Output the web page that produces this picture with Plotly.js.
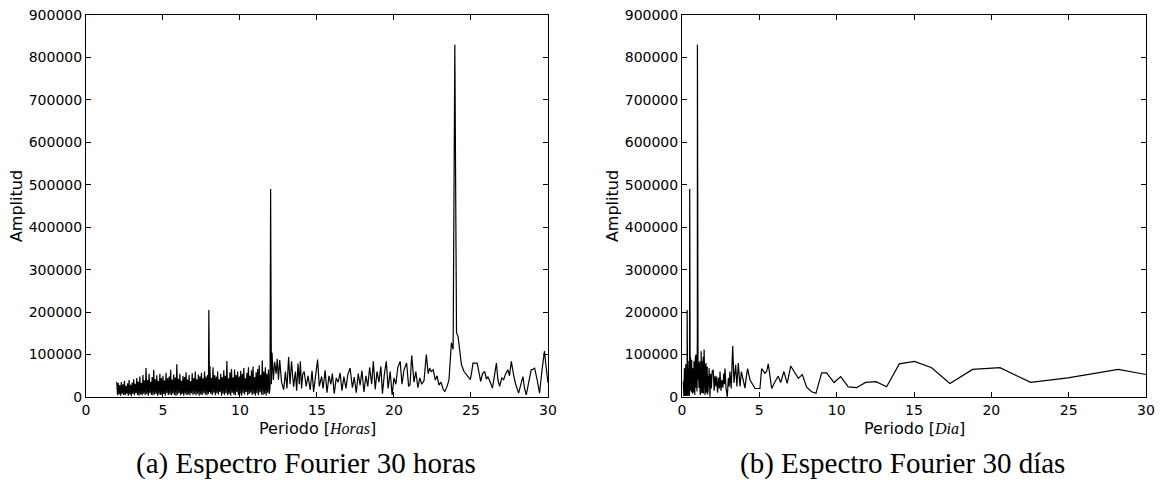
<!DOCTYPE html>
<html>
<head>
<meta charset="utf-8">
<script src="https://cdn.plot.ly/plotly-3.0.1.min.js"></script>
<style>html,body{margin:0;padding:0;background:#fff;}#chart{width:1163px;height:498px;}</style>
</head>
<body>
<div id="chart"></div>
<script>
// Fourier spectrum: period in hours (2 - 30 h), amplitude in thousands
const periodHours = [
2.00,2.05,2.10,2.15,2.20,2.25,2.30,2.35,2.40,2.45,
2.50,2.55,2.60,2.65,2.70,2.75,2.80,2.85,2.90,2.95,
3.00,3.05,3.10,3.15,3.20,3.25,3.30,3.35,3.40,3.45,
3.50,3.55,3.60,3.65,3.70,3.75,3.80,3.85,3.90,3.95,
4.00,4.05,4.10,4.15,4.20,4.25,4.30,4.35,4.40,4.45,
4.50,4.55,4.60,4.65,4.70,4.75,4.80,4.85,4.90,4.95,
5.00,5.05,5.10,5.15,5.20,5.25,5.30,5.35,5.40,5.45,
5.50,5.55,5.60,5.65,5.70,5.75,5.80,5.85,5.90,5.95,
6.00,6.05,6.10,6.15,6.20,6.25,6.30,6.35,6.40,6.45,
6.50,6.55,6.60,6.65,6.70,6.75,6.80,6.85,6.90,6.95,
7.00,7.05,7.10,7.15,7.20,7.25,7.30,7.35,7.40,7.45,
7.50,7.55,7.60,7.65,7.70,7.75,7.80,7.85,7.90,7.95,
7.98,8.02,
8.05,8.10,8.15,8.20,8.25,8.30,8.35,8.40,8.45,8.50,
8.55,8.60,8.65,8.70,8.75,8.80,8.85,8.90,8.95,9.00,
9.05,9.10,9.15,9.20,9.25,9.30,9.35,9.40,9.45,9.50,
9.55,9.60,9.65,9.70,9.75,9.80,9.85,9.90,9.95,10.00,
10.05,10.10,10.15,10.20,10.25,10.30,10.35,10.40,10.45,10.50,
10.55,10.60,10.65,10.70,10.75,10.80,10.85,10.90,10.95,11.00,
11.05,11.10,11.15,11.20,11.25,11.30,11.35,11.40,11.45,11.50,
11.55,11.60,11.65,11.70,11.75,11.80,11.85,11.90,
11.95,11.99,12.04,12.08,12.17,12.25,12.35,12.42,12.50,12.58,
12.70,12.84,12.95,13.05,13.16,13.25,13.35,13.48,13.60,13.68,
13.77,13.85,13.92,14.00,14.08,14.17,14.30,14.42,14.56,14.68,
14.78,14.90,15.04,15.15,15.30,15.40,15.53,15.65,15.78,15.90,
16.00,16.12,16.25,16.38,16.50,16.62,16.75,16.88,17.00,17.15,
17.30,17.42,17.55,17.68,17.80,17.92,18.05,18.18,18.30,18.42,
18.55,18.66,18.78,18.90,19.02,19.15,19.25,19.38,19.50,19.62,
19.75,19.88,20.00,20.12,20.25,20.40,20.52,20.65,20.82,20.95,
21.04,21.15,21.30,21.42,21.55,21.68,21.80,21.95,22.10,22.22,
22.32,22.42,22.55,22.68,22.80,22.92,23.05,23.20,23.30,23.45,
23.57,23.73,23.84,23.95,24.06,24.16,24.27,24.38,24.55,24.70,
24.85,24.96,25.05,25.13,25.40,25.50,25.63,25.75,25.89,26.00,
26.10,26.25,26.39,26.52,26.65,26.75,26.86,27.00,27.12,27.25,
27.40,27.50,27.62,27.75,27.88,28.09,28.20,28.37,28.48,28.59,
28.75,28.91,29.00,29.13,29.30,29.45,29.60,29.77,29.88,30.00
];
const ampHoursK = [
36,4,33,6,28,3,35,7,30,5,
38,4,26,8,32,3,40,6,29,2,
34,7,42,4,31,9,45,5,36,3,
48,6,33,4,52,8,39,5,68,7,
40,3,55,9,36,5,47,4,64,6,
42,8,51,3,38,6,55,5,45,4,
50,7,39,3,57,9,44,5,48,6,
64,4,41,8,53,5,46,3,77,6,
43,9,55,4,38,7,50,3,47,8,
58,5,41,6,52,4,37,9,56,5,
45,7,60,4,42,8,53,3,49,6,
57,5,44,9,60,6,48,4,52,7,
205,12,
73,8,45,5,70,10,52,4,48,9,
60,6,42,12,55,3,47,8,63,5,
50,9,85,4,44,7,58,3,66,10,
46,6,65,4,52,11,60,5,48,8,
62,3,55,9,68,6,44,12,57,4,
70,7,50,10,63,5,72,8,47,3,
58,9,66,4,75,11,52,6,86,5,
60,8,70,3,55,10,65,7,
20,490,30,105,40,83,55,90,41,87,
35,17,60,20,94,30,84,24,60,15,
79,30,84,20,55,60,25,50,17,62,
12,45,88,25,48,20,63,10,50,30,
55,8,45,35,57,15,48,20,52,68,
22,47,10,55,28,62,12,50,25,70,
30,84,18,60,35,72,8,55,84,20,
60,5,45,30,70,84,30,64,80,25,
29,98,35,60,22,45,30,38,100,55,
68,60,64,40,50,28,35,17,13,25,
41,128,112,830,151,143,110,76,60,53,
45,41,60,80,80,60,37,55,60,42,
48,35,21,50,80,40,25,45,41,55,
64,50,84,55,33,9,25,48,20,5,
35,64,65,68,40,9,60,108,70,33
];
// Continuation of the same spectrum beyond 30 h, period in days, amplitude in thousands
const periodDaysExt = [
1.27,1.29,1.31,1.33,1.35,1.37,1.39,1.41,1.43,1.45,
1.47,1.49,1.51,1.53,1.55,1.57,1.59,1.61,1.63,1.65,
1.67,1.69,1.71,1.73,1.75,1.77,1.79,1.81,1.85,1.90,
1.95,2.02,2.08,2.14,2.20,2.24,2.30,2.36,2.42,2.46,
2.52,2.58,2.64,2.70,2.74,2.78,2.85,2.93,3.00,3.05,
3.10,3.18,3.28,3.36,3.47,3.55,3.64,3.75,3.84,3.92,
4.07,4.15,4.24,4.40,4.72,5.04,5.15,5.36,5.47,5.58,
5.80,6.01,6.22,6.38,6.59,6.80,7.03,7.52,7.78,8.06,
8.38,8.66,9.03,9.35,9.83,10.26,10.75,11.29,11.87,12.54,
13.23,14.05,15.03,16.14,17.32,18.79,20.56,22.54,24.95,28.20,
30.00
];
const ampDaysExtK = [
20,85,10,70,15,95,8,60,112,12,
75,5,65,18,80,10,55,20,72,6,
60,15,50,25,68,8,45,0.5,55,20,
60,64,15,50,25,48,10,45,20,60,
15,40,22,55,30,67,20,0.5,45,25,
60,20,120,33,76,25,80,25,60,48,
21,45,67,40,20,20,67,56,60,78,
20,36,49,34,60,32,73,44,53,23,
12.5,8.7,57,57,34,48,24,22,34.5,36,
24,78,84,69,32,65,69,34.5,45,65,
53
];
const yTicks = [0,100000,200000,300000,400000,500000,600000,700000,800000,900000];
const captionA = "(a) Espectro Fourier 30 horas";
const captionB = "(b) Espectro Fourier 30 días";
const xTitleA = "Horas";
const xTitleB = "Dia";

const ampHours = ampHoursK.map(v => v * 1000);
const xDays = periodHours.map(h => h / 24).concat(periodDaysExt);
const yDays = ampHours.concat(ampDaysExtK.map(v => v * 1000));

const lineStyle = {color: '#000000', width: 1.2};
const traces = [
  {x: periodHours, y: ampHours, type: 'scatter', mode: 'lines', line: lineStyle, xaxis: 'x', yaxis: 'y', hoverinfo: 'skip'},
  {x: xDays, y: yDays, type: 'scatter', mode: 'lines', line: lineStyle, xaxis: 'x2', yaxis: 'y2', hoverinfo: 'skip'}
];

const tickFont = {family: 'DejaVu Sans', size: 14, color: '#000'};
const titleFont = {family: 'DejaVu Sans', size: 16, color: '#000'};
function xAxis(domain, anchor) {
  return {domain: domain, range: [0, 30], dtick: 5, tick0: 0, ticks: 'inside', ticklen: 5, tickcolor: '#000',
    showline: true, linecolor: '#000', linewidth: 1, mirror: 'allticks', showgrid: false, zeroline: false,
    tickfont: tickFont, anchor: anchor, fixedrange: true};
}
function yAxis(anchor) {
  return {domain: [0.2028, 0.9699], range: [0, 900000], tickvals: yTicks, tickformat: 'd', ticks: 'inside', ticklen: 5,
    tickcolor: '#000', showline: true, linecolor: '#000', linewidth: 1, mirror: 'allticks', showgrid: false,
    zeroline: false, tickfont: tickFont, anchor: anchor,
    title: {text: 'Amplitud', font: titleFont, standoff: 2}, fixedrange: true};
}
const serifI = (t) => 'Periodo [<span style="font-family:Liberation Serif"><i>' + t + '</i></span>]';

const layout = {
  width: 1163, height: 498, margin: {l: 0, r: 0, t: 0, b: 0},
  paper_bgcolor: '#fff', plot_bgcolor: '#fff', showlegend: false,
  xaxis: xAxis([0.0739, 0.4712], 'y'),
  yaxis: yAxis('x'),
  xaxis2: xAxis([0.5864, 0.9854], 'y2'),
  yaxis2: yAxis('x2'),
  annotations: [
    {text: serifI(xTitleA), xref: 'paper', yref: 'paper', x: 317 / 1163, y: (498 - 428) / 498, xanchor: 'center', yanchor: 'middle',
     showarrow: false, font: titleFont},
    {text: serifI(xTitleB), xref: 'paper', yref: 'paper', x: 914 / 1163, y: (498 - 428) / 498, xanchor: 'center', yanchor: 'middle',
     showarrow: false, font: titleFont},
    {text: captionA, xref: 'paper', yref: 'paper', x: 306 / 1163, y: 35 / 498, xanchor: 'center', yanchor: 'middle',
     showarrow: false, font: {family: 'Liberation Serif', size: 29, color: '#000'}},
    {text: captionB, xref: 'paper', yref: 'paper', x: 902 / 1163, y: 35 / 498, xanchor: 'center', yanchor: 'middle',
     showarrow: false, font: {family: 'Liberation Serif', size: 29, color: '#000'}}
  ]
};
Plotly.newPlot('chart', traces, layout, {staticPlot: true, displayModeBar: false});
</script>
</body>
</html>
